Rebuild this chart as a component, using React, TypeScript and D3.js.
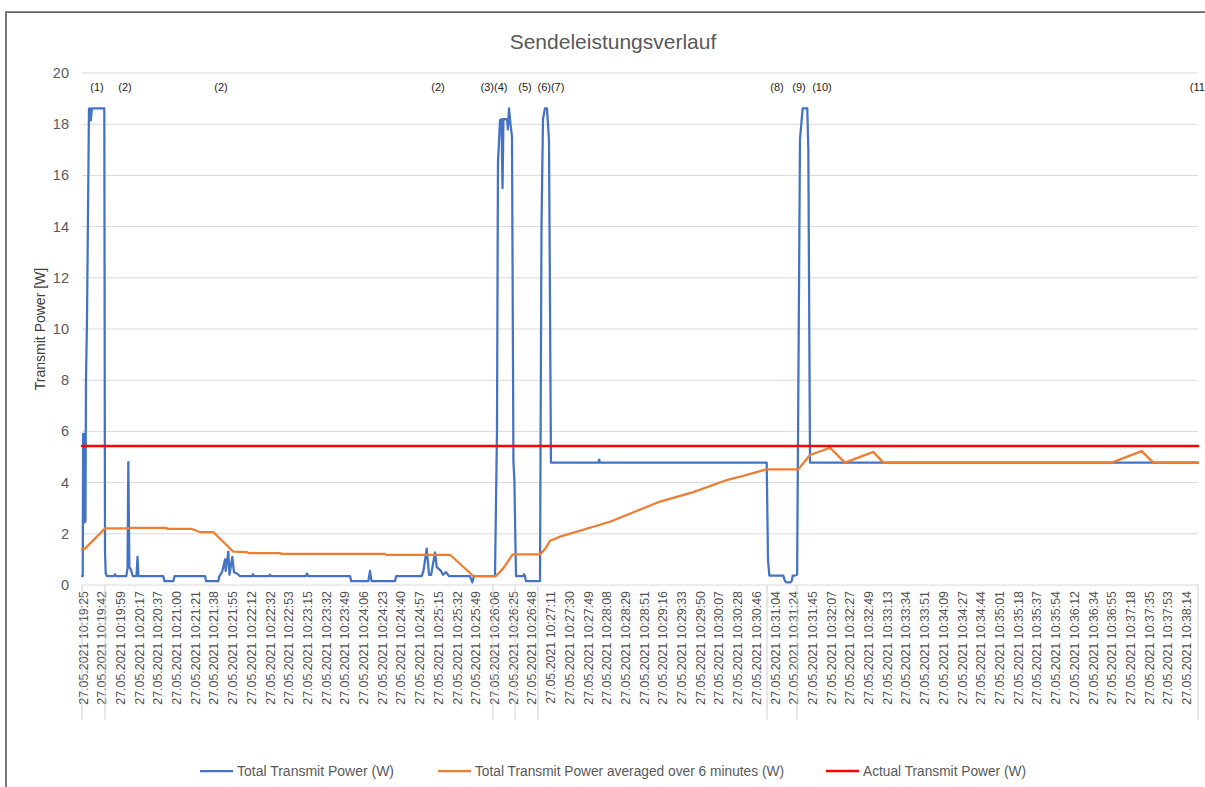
import * as d3 from 'd3'

const WIDTH = 1205
const HEIGHT = 787
const MARGIN = { top: 73, right: 7, bottom: 202, left: 82 }
const FONT = '"Liberation Sans", Arial, sans-serif'

// one sample every ~6 s, Excel shows a label on every 3rd sample
const SAMPLE_COUNT = 180
const LABEL_STEP = 3
const DATE = '27.05.2021'
const TIMES = [
  '10:19:25', '10:19:42', '10:19:59', '10:20:17', '10:20:37', '10:21:00', '10:21:21', '10:21:38',
  '10:21:55', '10:22:12', '10:22:32', '10:22:53', '10:23:15', '10:23:32', '10:23:49', '10:24:06',
  '10:24:23', '10:24:40', '10:24:57', '10:25:15', '10:25:32', '10:25:49', '10:26:06', '10:26:25',
  '10:26:48', '10:27:11', '10:27:30', '10:27:49', '10:28:08', '10:28:29', '10:28:51', '10:29:16',
  '10:29:33', '10:29:50', '10:30:07', '10:30:28', '10:30:46', '10:31:04', '10:31:24', '10:31:45',
  '10:32:07', '10:32:27', '10:32:49', '10:33:13', '10:33:34', '10:33:51', '10:34:09', '10:34:27',
  '10:34:44', '10:35:01', '10:35:18', '10:35:37', '10:35:54', '10:36:12', '10:36:34', '10:36:55',
  '10:37:18', '10:37:35', '10:37:53', '10:38:14',
]

// [sample position, watts]
const totalPower: [number, number][] = [
  [0, 0.35], [0.12, 0.35], [0.18, 5.9], [0.35, 5.9], [0.45, 2.45], [0.55, 2.5], [0.64, 8.0],
  [0.8, 10.3], [1.12, 18.6], [1.28, 18.62], [1.4, 18.15], [1.6, 18.62], [3.58, 18.62],
  [3.69, 1.3], [3.8, 0.45], [4.01, 0.35], [5.1, 0.35], [5.29, 0.42], [5.45, 0.35],
  [7.1, 0.35], [7.3, 0.65], [7.43, 4.8], [7.6, 0.7], [7.85, 0.6], [8.13, 0.35],
  [8.74, 0.35], [8.9, 1.1], [9.05, 0.35], [13.04, 0.35], [13.23, 0.15], [14.64, 0.15],
  [14.84, 0.35], [19.73, 0.35], [19.92, 0.15], [21.86, 0.15], [22.05, 0.35], [22.46, 0.5],
  [22.94, 1.0], [23.05, 0.55], [23.47, 1.3], [23.65, 0.4], [24.11, 1.1], [24.38, 0.5],
  [24.86, 0.45], [25.34, 0.35], [27.3, 0.35], [27.43, 0.42], [27.6, 0.35], [30.0, 0.35],
  [30.15, 0.4], [30.3, 0.35], [35.9, 0.35], [36.09, 0.45], [36.25, 0.35], [42.99, 0.35],
  [43.18, 0.15], [45.92, 0.15], [46.19, 0.55], [46.43, 0.15], [50.2, 0.15], [50.39, 0.35],
  [54.49, 0.35], [54.77, 0.55], [55.29, 1.42], [55.66, 0.4], [56.0, 0.4], [56.62, 1.27],
  [56.9, 0.7], [57.58, 0.55], [57.9, 0.4], [58.38, 0.5], [58.86, 0.35], [62.23, 0.35],
  [62.6, 0.1], [62.87, 0.35], [66.24, 0.35], [66.56, 6.0], [66.72, 16.5], [67.05, 18.16],
  [67.29, 18.2], [67.45, 15.5], [67.6, 18.2], [68.17, 18.2], [68.3, 17.8], [68.49, 18.62],
  [68.73, 18.0], [68.97, 17.5], [69.2, 4.8], [69.35, 4.1], [69.61, 0.35], [70.78, 0.35],
  [70.9, 0.42], [71.05, 0.35], [71.2, 0.15], [73.46, 0.15], [73.7, 14.0], [73.94, 18.2],
  [74.26, 18.62], [74.58, 18.62], [74.9, 17.4], [75.22, 4.78], [82.81, 4.78], [82.95, 4.9],
  [83.08, 4.78], [109.82, 4.78], [110.03, 1.0], [110.24, 0.37], [112.48, 0.37], [112.76, 0.15],
  [113.0, 0.1], [113.6, 0.1], [113.83, 0.15], [114.0, 0.37], [114.36, 0.37], [114.7, 0.4],
  [115.16, 17.4], [115.59, 18.62], [116.33, 18.62], [116.5, 17.0], [116.77, 4.78], [179, 4.78],
]

const averagedPower: [number, number][] = [
  [0, 1.39], [0.48, 1.42], [3.69, 2.21], [7.43, 2.21], [7.7, 2.23], [13.59, 2.23],
  [13.71, 2.19], [17.6, 2.19], [18.93, 2.07], [21.06, 2.07], [24.27, 1.3], [26.47, 1.28],
  [26.67, 1.25], [31.76, 1.25], [31.92, 1.22], [48.6, 1.22], [48.76, 1.18], [59.03, 1.18],
  [62.76, 0.35], [66.4, 0.35], [67.57, 0.65], [69.08, 1.2], [73.46, 1.2], [74.26, 1.4],
  [75.06, 1.73], [76.67, 1.89], [84.69, 2.47], [92.71, 3.26], [98.05, 3.63], [103.41, 4.1],
  [105.54, 4.23], [109.82, 4.52], [114.89, 4.52], [116.77, 5.08], [119.97, 5.36],
  [122.38, 4.78], [126.92, 5.2], [128.52, 4.78], [165.16, 4.78], [169.97, 5.23],
  [171.83, 4.78], [179, 4.78],
]

const actualPower: [number, number][] = [[0, 5.43], [179, 5.43]]

const events = [
  { label: '(1)', at: 2.41 }, { label: '(2)', at: 6.9 }, { label: '(2)', at: 22.29 },
  { label: '(2)', at: 57.1 }, { label: '(3)(4)', at: 66.08 }, { label: '(5)', at: 71.05 },
  { label: '(6)(7)', at: 75.22 }, { label: '(8)', at: 111.47 }, { label: '(9)', at: 115.0 },
  { label: '(10)', at: 118.69 }, { label: '(11)', at: 179.2 },
]

// thin dividers under the axis
const markerLines = [0, 3.69, 65.92, 69.45, 73.14, 109.87, 114.68, 179]

const series = [
  { name: 'Total Transmit Power (W)', color: '#4472c4', data: totalPower, width: 2.25 },
  { name: 'Total Transmit Power averaged over 6 minutes (W)', color: '#ed7d31', data: averagedPower, width: 2.25 },
  { name: 'Actual Transmit Power (W)', color: '#ff0000', data: actualPower, width: 2.5 },
]

const LEGEND_X = [200, 438, 826]
const LEGEND_TEXT_W = [157, 309, 163]

export default function App() {
  const x = d3.scaleLinear().domain([0, SAMPLE_COUNT - 1]).range([MARGIN.left, WIDTH - MARGIN.right])
  const y = d3.scaleLinear().domain([0, 20]).range([HEIGHT - MARGIN.bottom, MARGIN.top])
  const line = d3.line<[number, number]>().x((d) => x(d[0])).y((d) => y(d[1]))
  const yBottom = y(0)

  return (
    <svg
      width={WIDTH}
      height={HEIGHT}
      style={{ position: 'absolute', left: 0, top: 0, background: '#fff' }}
      fontFamily={FONT}
    >
      {/* frame */}
      <path d={`M6,${HEIGHT} V12 H${WIDTH}`} fill="none" stroke="#666" strokeWidth={1.75} />

      <text x={613} y={49} textAnchor="middle" fontSize={21} fill="#595959">
        Sendeleistungsverlauf
      </text>

      {/* grid + y ticks */}
      {y.ticks(10).map((t) => (
        <g key={t}>
          <line x1={x(0)} x2={x(SAMPLE_COUNT - 1)} y1={y(t)} y2={y(t)} stroke="#d9d9d9" strokeWidth={1} />
          <text x={69} y={y(t)} textAnchor="end" dominantBaseline="central" fontSize={14.5} fill="#595959">
            {t}
          </text>
        </g>
      ))}

      <text
        transform={`translate(40,${(y(0) + y(20)) / 2}) rotate(-90)`}
        textAnchor="middle"
        dominantBaseline="central"
        fontSize={14}
        fill="#404040"
      >
        Transmit Power [W]
      </text>

      {/* x labels */}
      {TIMES.map((t, i) => (
        <text
          key={t}
          transform={`translate(${x(i * LABEL_STEP) + 1.5},${yBottom + 6}) rotate(-90)`}
          textAnchor="end"
          dominantBaseline="central"
          fontSize={12.4}
          fill="#505050"
        >
          {`${DATE} ${t}`}
        </text>
      ))}

      {markerLines.map((m, i) => (
        <line key={i} x1={x(m)} x2={x(m)} y1={yBottom} y2={720} stroke="#d0d0d0" strokeWidth={1} />
      ))}

      {/* series */}
      {series.map((s) => (
        <path
          key={s.name}
          d={line(s.data) ?? ''}
          fill="none"
          stroke={s.color}
          strokeWidth={s.width}
          strokeLinejoin="round"
          strokeLinecap="round"
        />
      ))}

      {events.map((e, i) => (
        <text key={i} x={x(e.at)} y={87} textAnchor="middle" dominantBaseline="central" fontSize={11} fill="#222">
          {e.label}
        </text>
      ))}

      {/* legend */}
      {series.map((s, i) => (
        <g key={s.name} transform={`translate(${LEGEND_X[i]},771)`}>
          <line x1={0} x2={33} y1={0} y2={0} stroke={s.color} strokeWidth={s.width} />
          <text
            x={37}
            y={0}
            dominantBaseline="central"
            fontSize={14}
            fill="#595959"
            textLength={LEGEND_TEXT_W[i]}
            lengthAdjust="spacingAndGlyphs"
          >
            {s.name}
          </text>
        </g>
      ))}
    </svg>
  )
}
